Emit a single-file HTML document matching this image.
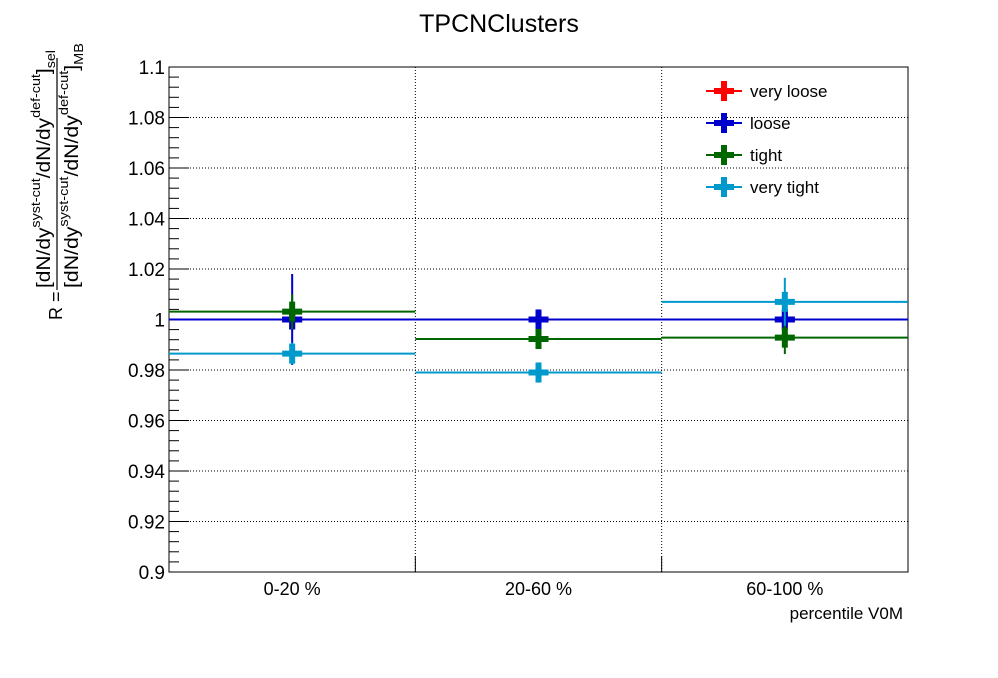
<!DOCTYPE html>
<html><head><meta charset="utf-8">
<style>
body{margin:0;background:#fff;}
svg text{font-family:"Liberation Sans",sans-serif;}
</style></head>
<body>
<svg id="chart" width="998" height="673" xmlns="http://www.w3.org/2000/svg">
<rect width="998" height="673" fill="#fff"/>
<text x="499" y="32" font-size="25" text-anchor="middle">TPCNClusters</text>
<g id="grid"></g>
<g id="axes"></g>
<g id="series"></g>
<text x="903" y="619" font-size="17" text-anchor="end">percentile V0M</text>
<g transform="translate(62,320) rotate(-90)">
 <text x="0" y="0" font-size="18" text-anchor="start">R =</text>
 <line x1="30" y1="-5" x2="262" y2="-5" stroke="#000" stroke-width="1.2"/>
 <text x="32" y="-12" font-size="19" textLength="238" lengthAdjust="spacingAndGlyphs">[dN/dy<tspan font-size="13" dy="-10">syst-cut</tspan><tspan dy="10">/dN/dy</tspan><tspan font-size="13" dy="-10">def-cut</tspan><tspan dy="10">]</tspan><tspan font-size="13" dy="5">sel</tspan></text>
 <text x="32" y="16" font-size="19" textLength="245" lengthAdjust="spacingAndGlyphs">[dN/dy<tspan font-size="13" dy="-10">syst-cut</tspan><tspan dy="10">/dN/dy</tspan><tspan font-size="13" dy="-10">def-cut</tspan><tspan dy="10">]</tspan><tspan font-size="13" dy="5">MB</tspan></text>
</g>
<g id="legend"></g>
</svg>
<script>
const categories = ["0-20 %","20-60 %","60-100 %"];
const seriesNames = ["very loose","loose","tight","very tight"];
const seriesColors = ["#ff0000","#0000cc","#006600","#0099cc"];
const veryLooseVals = [1.000,1.000,1.000];
const veryLooseErrs = [0.000,0.000,0.000];
const looseVals = [1.000,1.000,1.000];
const looseErrs = [0.018,0.004,0.003];
const tightVals = [1.0031,0.9923,0.9928];
const tightErrs = [0.0069,0.004,0.0065];
const veryTightVals = [0.9865,0.979,1.007];
const veryTightErrs = [0.0043,0.004,0.0095];
const yTicks = [0.9,0.92,0.94,0.96,0.98,1,1.02,1.04,1.06,1.08,1.1];
const yTickLabels = ["0.9","0.92","0.94","0.96","0.98","1","1.02","1.04","1.06","1.08","1.1"];

const X0=169,X1=908,Y0=572,Y1=67,YMIN=0.9,YMAX=1.1;
const xs = i => X0 + (X1-X0)/categories.length*i;
const ys = v => Y0 - (v-YMIN)/(YMAX-YMIN)*(Y0-Y1);
const NS="http://www.w3.org/2000/svg";
function mk(parent,tag,attrs){const e=document.createElementNS(NS,tag);for(const k in attrs)e.setAttribute(k,attrs[k]);parent.appendChild(e);return e;}
const grid=document.getElementById('grid'),axes=document.getElementById('axes'),ser=document.getElementById('series'),leg=document.getElementById('legend');

yTicks.forEach((t,i)=>{ if(i>0&&i<yTicks.length-1){const l=mk(grid,'line',{x1:X0,x2:X1,y1:ys(t),y2:ys(t),stroke:'#000','stroke-width':1,'stroke-dasharray':'1,2'});

}});
for(let i=1;i<categories.length;i++){const l=mk(grid,'line',{x1:xs(i),x2:xs(i),y1:Y1,y2:Y0,stroke:'#000','stroke-width':1,'stroke-dasharray':'1,2'});

}

const fr=mk(axes,'rect',{x:X0,y:Y1,width:X1-X0,height:Y0-Y1,fill:'none',stroke:'#000','stroke-width':1});


yTicks.forEach((t,i)=>{
 mk(axes,'line',{x1:X0,x2:X0+20,y1:ys(t),y2:ys(t),stroke:'#000'});
 if(i<yTicks.length-1){for(let k=1;k<5;k++){const v=t+k*0.004;mk(axes,'line',{x1:X0,x2:X0+10,y1:ys(v),y2:ys(v),stroke:'#000'});}}
 const tx=mk(axes,'text',{x:X0-4,y:ys(t)+7,'font-size':19,'text-anchor':'end'});
 tx.textContent=yTickLabels[i];
 
 
});
categories.forEach((c,i)=>{
 if(i>0) mk(axes,'line',{x1:xs(i),x2:xs(i),y1:Y0,y2:Y0-16,stroke:'#000'});
 const tx=mk(axes,'text',{x:(xs(i)+xs(i+1))/2,y:595,'font-size':18,'text-anchor':'middle'});
 tx.textContent=c;
 
 
});

const allVals=[veryLooseVals,looseVals,tightVals,veryTightVals];
const allErrs=[veryLooseErrs,looseErrs,tightErrs,veryTightErrs];
allVals.forEach((vals,s)=>{
 const col=seriesColors[s];
 const g=mk(ser,'g',{});
 
 
 vals.forEach((v,i)=>{
  const cx=(xs(i)+xs(i+1))/2,cy=ys(v),e=allErrs[s][i];
  mk(g,'line',{x1:xs(i),x2:xs(i+1),y1:cy,y2:cy,stroke:col,'stroke-width':2});
  if(e>0) mk(g,'line',{x1:cx,x2:cx,y1:ys(v+e),y2:ys(v-e),stroke:col,'stroke-width':2});
  const p=mk(g,'path',{d:`M${cx-10},${cy-3}h7v-7h6v7h7v6h-7v7h-6v-7h-7z`,fill:col});
  
  
 });
});

seriesNames.forEach((n,s)=>{
 const y=91+s*32,col=seriesColors[s];
 const g=mk(leg,'g',{});
 
 
 mk(g,'line',{x1:706,x2:742,y1:y,y2:y,stroke:col,'stroke-width':2});
 mk(g,'path',{d:`M${724-10},${y-3}h7v-7h6v7h7v6h-7v7h-6v-7h-7z`,fill:col});
 const t=mk(g,'text',{x:750,y:y+6,'font-size':17});
 t.textContent=n;
});
</script>
</body></html>
